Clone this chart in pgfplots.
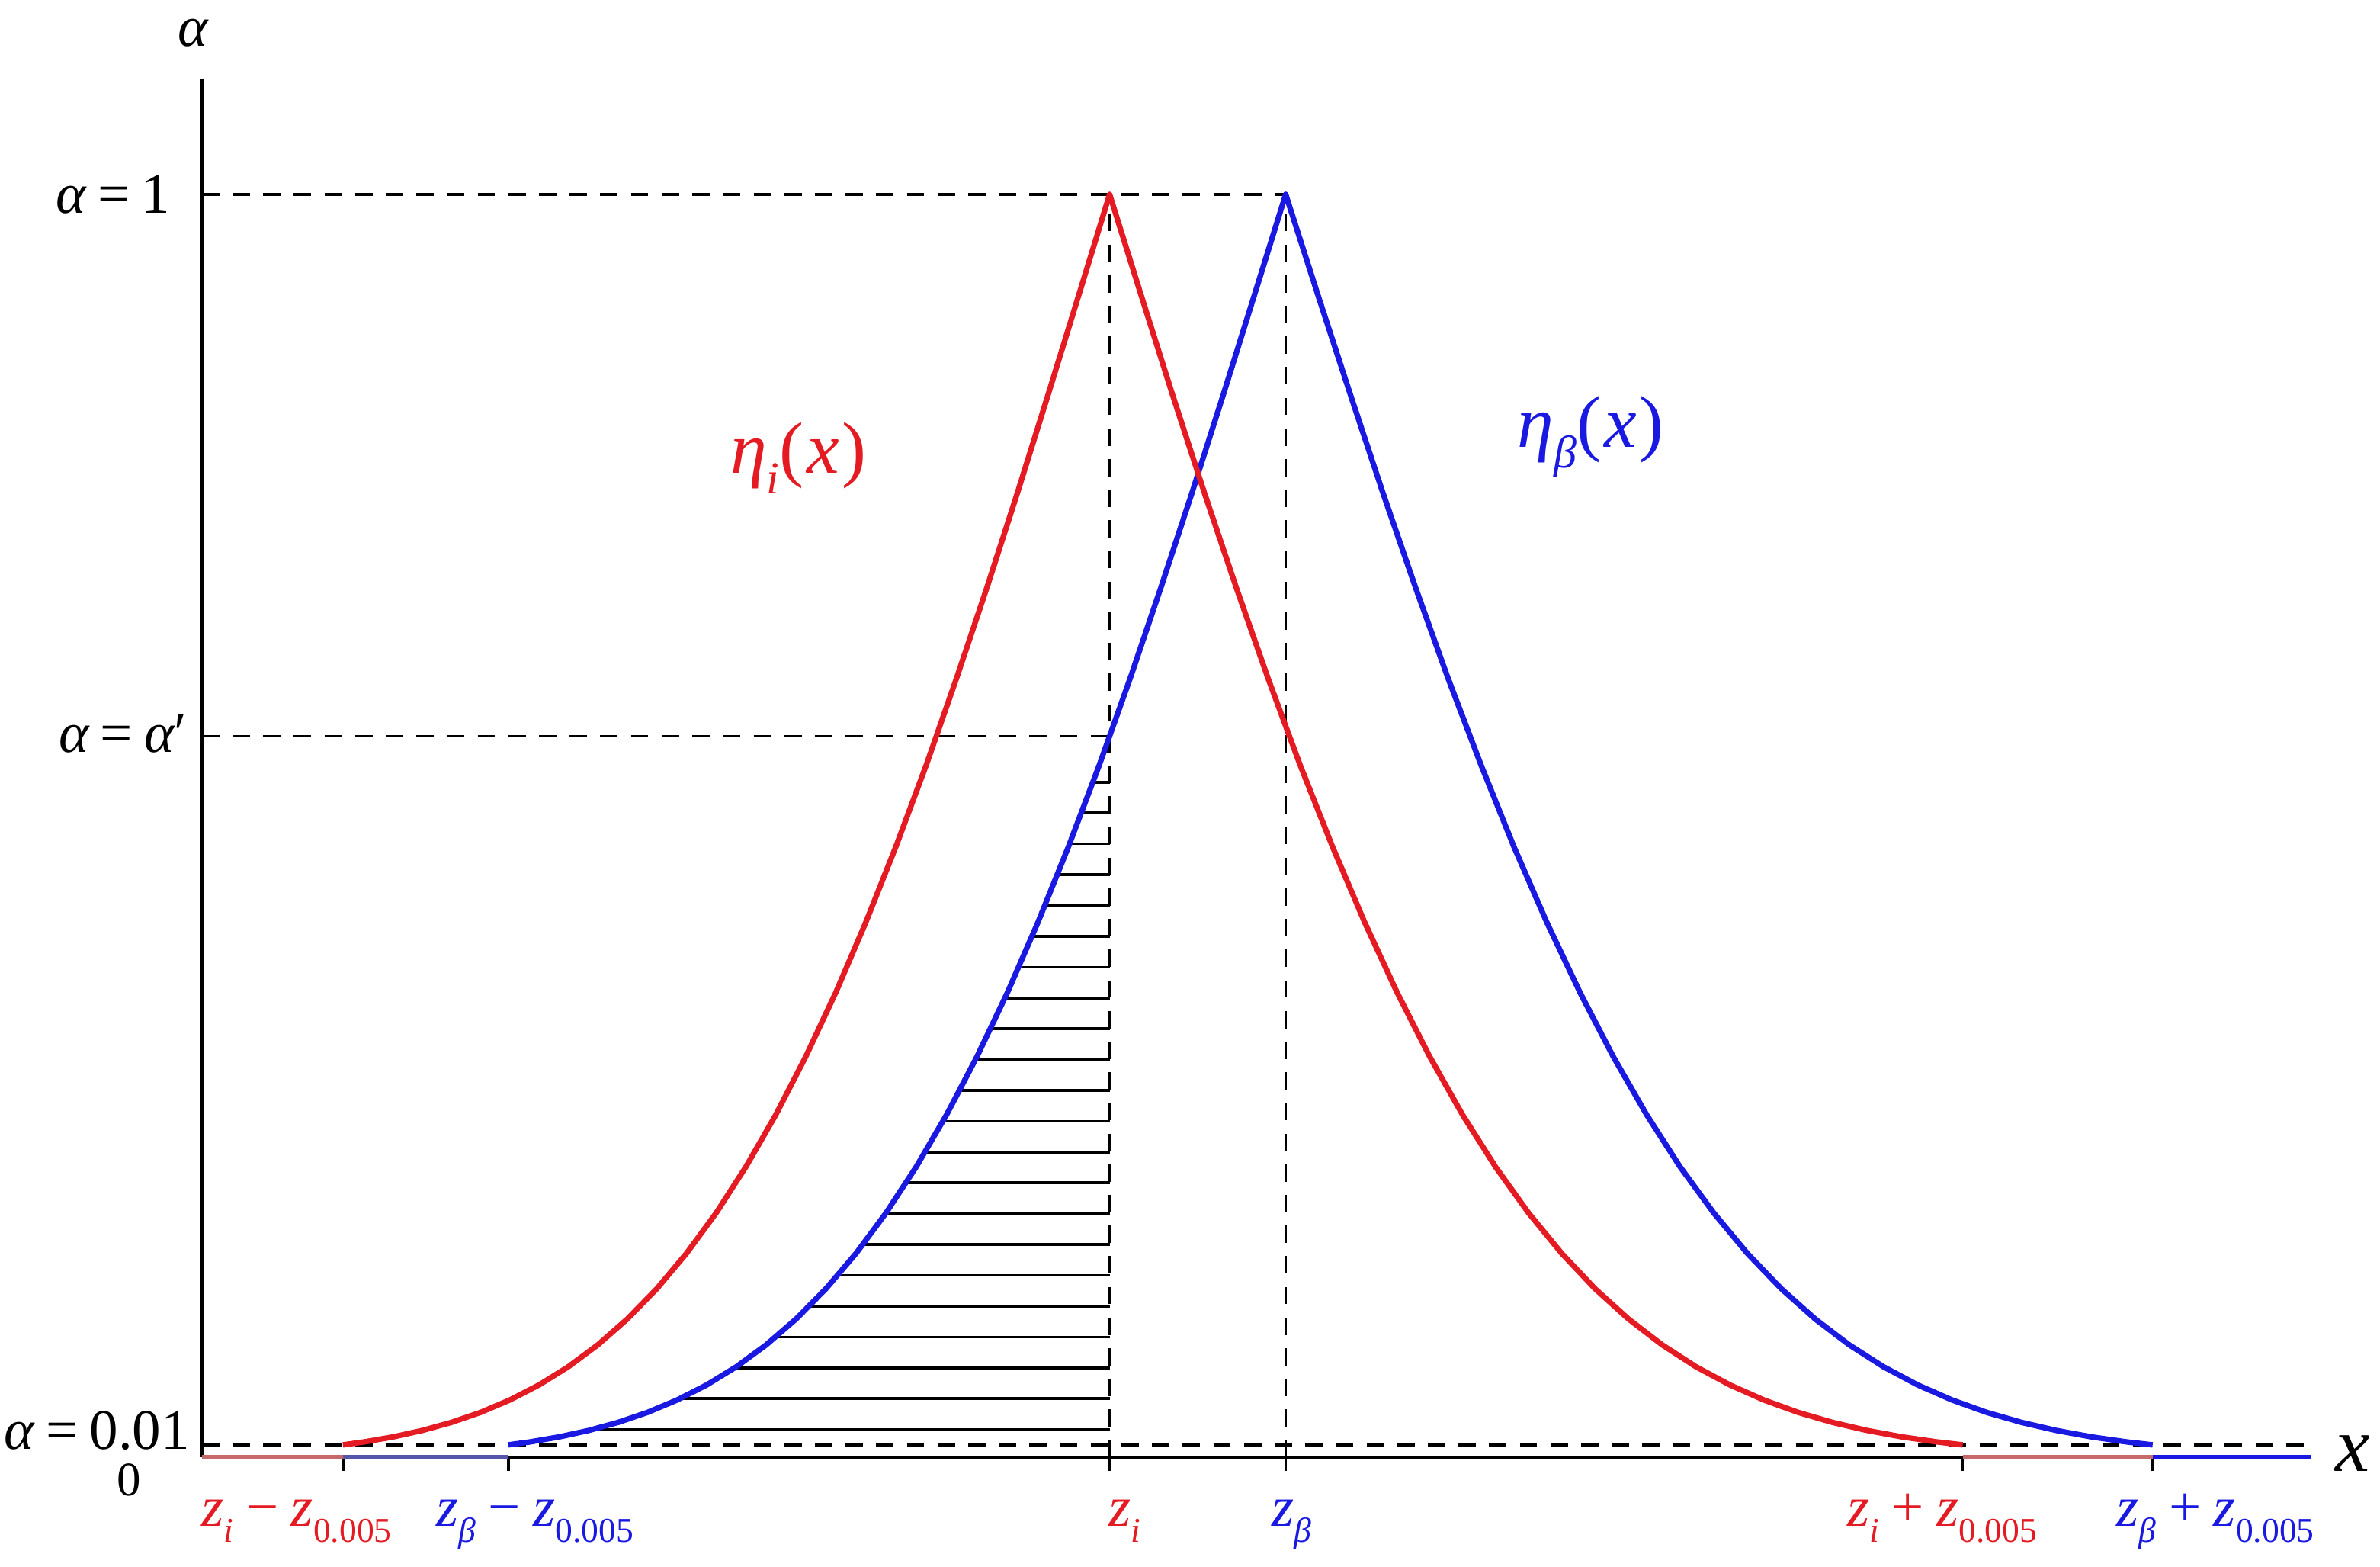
\documentclass[border=0pt]{standalone}
\usepackage{pgfplots}
\pgfplotsset{compat=1.18}
\usepackage{fontspec}
\setmainfont{Liberation Serif}
\definecolor{cred}{RGB}{228,27,35}
\definecolor{cblue}{RGB}{25,25,225}
\definecolor{pred}{RGB}{200,105,105}
\definecolor{pblue}{RGB}{85,85,170}
\newcommand{\sub}[1]{\raisebox{-0.28em}{\fontsize{7.6}{8}\selectfont #1}}
\newcommand{\zi}{{\itshape z}\sub{\itshape i}}
\newcommand{\zb}{{\itshape z}\sub{\itshape β}}
\newcommand{\zz}{{\itshape z}\sub{0.005}}
\newcommand{\eq}{\hspace{0.2em}=\hspace{0.2em}}
\newcommand{\op}[1]{\hspace{0.22em}#1\hspace{0.22em}}
\tikzset{lab/.style={inner sep=0pt, outer sep=0pt}}
\begin{document}
\begin{tikzpicture}
\path[use as bounding box] (-44.13pt,-23.89pt) rectangle (476.13pt,318.53pt);
\begin{axis}[
  at={(0pt,0pt)}, anchor=origin,
  scale only axis, width=460.9pt, height=301.26pt,
  xmin=0, xmax=1389, ymin=0, ymax=1.0913,
  axis x line=bottom, axis y line=left,
  axis line style={-, line width=0.6pt, black},
  xtick={93,202,598,714,1160,1285},
  xticklabels={,,,,,},
  ytick=\empty,
  tick align=outside,
  major tick length=3pt,
  x tick style={line width=0.55pt, black},
  clip=false,
]
% dashed reference lines
\addplot[black, line width=0.6pt, dash pattern=on 3.8pt off 2.9pt] coordinates {(0,1) (714,1)};
\addplot[black, line width=0.6pt, dash pattern=on 3.8pt off 2.9pt] coordinates {(0,0.571) (598,0.571)};
\addplot[black, line width=0.6pt, dash pattern=on 3.8pt off 2.9pt] coordinates {(0,0.01) (1389,0.01)};
\addplot[black, line width=0.6pt, dash pattern=on 3.8pt off 2.9pt] coordinates {(598,0) (598,1)};
\addplot[black, line width=0.6pt, dash pattern=on 3.8pt off 2.9pt] coordinates {(714,0) (714,1)};
% hatching
\addplot[black, line width=0.6pt, unbounded coords=jump] coordinates {
(257.2,0.0222)(598,0.0222)(598,nan)
(314.8,0.0466)(598,0.0466)(598,nan)
(350.9,0.0710)(598,0.0710)(598,nan)
(377.7,0.0954)(598,0.0954)(598,nan)
(399.8,0.1198)(598,0.1198)(598,nan)
(418.6,0.1442)(598,0.1442)(598,nan)
(435.3,0.1686)(598,0.1686)(598,nan)
(450.3,0.1930)(598,0.1930)(598,nan)
(463.7,0.2174)(598,0.2174)(598,nan)
(476.3,0.2418)(598,0.2418)(598,nan)
(488.1,0.2662)(598,0.2662)(598,nan)
(499.0,0.2906)(598,0.2906)(598,nan)
(509.6,0.3150)(598,0.3150)(598,nan)
(519.3,0.3394)(598,0.3394)(598,nan)
(529.0,0.3638)(598,0.3638)(598,nan)
(538.0,0.3882)(598,0.3882)(598,nan)
(546.8,0.4126)(598,0.4126)(598,nan)
(555.3,0.4370)(598,0.4370)(598,nan)
(563.4,0.4614)(598,0.4614)(598,nan)
(571.6,0.4858)(598,0.4858)(598,nan)
(579.3,0.5102)(598,0.5102)(598,nan)
(586.9,0.5346)(598,0.5346)(598,nan)
(594.4,0.5590)(598,0.5590)
};
% zero segments on the x axis
\addplot[pred, line width=1pt] coordinates {(0,0) (92.9,0)};
\addplot[pblue, line width=1pt] coordinates {(92.9,0) (201.9,0)};
\addplot[pred, line width=1pt] coordinates {(1160,0) (1285.1,0)};
\addplot[cblue, line width=1pt] coordinates {(1285.1,0) (1389,0)};
% eta_beta
\addplot[cblue, line width=1.2pt, line join=round] coordinates {
(201.9,0.01)(216.5,0.01242)(235.7,0.01640)(254.9,0.02145)(274.2,0.02781)(293.6,0.03573)(313.0,0.04550)(332.5,0.05743)(352.1,0.07186)(371.7,0.08913)(391.4,0.10960)(411.1,0.13361)(430.9,0.16151)(450.7,0.19360)(470.6,0.23014)(490.6,0.27133)(510.6,0.31731)(530.7,0.36812)(550.8,0.42371)(571.0,0.48393)(591.3,0.54851)(611.6,0.61708)(631.9,0.68916)(652.4,0.76418)(672.9,0.84148)(693.4,0.92034)(714,1)
(735.2,0.92034)(756.6,0.84148)(777.9,0.76418)(799.4,0.68916)(820.9,0.61708)(842.6,0.54851)(864.2,0.48393)(886.0,0.42371)(907.9,0.36812)(929.8,0.31731)(951.8,0.27133)(973.8,0.23014)(996.0,0.19360)(1018.2,0.16151)(1040.5,0.13361)(1062.9,0.10960)(1085.3,0.08913)(1107.8,0.07186)(1130.4,0.05743)(1153.1,0.04550)(1175.8,0.03573)(1198.7,0.02781)(1221.6,0.02145)(1244.5,0.01640)(1267.6,0.01242)(1285.1,0.01)
};
% eta_i
\addplot[cred, line width=1.2pt, line join=round] coordinates {
(92.9,0.01)(107.3,0.01242)(126.3,0.01640)(145.3,0.02145)(164.4,0.02781)(183.6,0.03573)(202.8,0.04550)(222.1,0.05743)(241.4,0.07186)(260.8,0.08913)(280.2,0.10960)(299.7,0.13361)(319.2,0.16151)(338.8,0.19360)(358.4,0.23014)(378.1,0.27133)(397.8,0.31731)(417.6,0.36812)(437.4,0.42371)(457.3,0.48393)(477.3,0.54851)(497.2,0.61708)(517.3,0.68916)(537.4,0.76418)(557.5,0.84148)(577.7,0.92034)(598,1)
(618.7,0.92034)(639.4,0.84148)(660.3,0.76418)(681.3,0.68916)(702.3,0.61708)(723.4,0.54851)(744.7,0.48393)(766.0,0.42371)(787.4,0.36812)(808.9,0.31731)(830.5,0.27133)(852.2,0.23014)(874.0,0.19360)(895.9,0.16151)(917.8,0.13361)(939.9,0.10960)(962.1,0.08913)(984.3,0.07186)(1006.7,0.05743)(1029.1,0.04550)(1051.6,0.03573)(1074.2,0.02781)(1096.9,0.02145)(1119.7,0.01640)(1142.6,0.01242)(1160.0,0.01)
};
% y-side labels
\node[lab, font=\fontsize{12.5}{14}\selectfont] at (axis cs:-6,1.128) {\itshape α};
\node[lab, anchor=east, font=\fontsize{12.5}{14}\selectfont] at (axis cs:-21,1.0) {{\itshape α}\eq 1};
\node[lab, anchor=east, font=\fontsize{12.5}{14}\selectfont] at (axis cs:-10,0.573) {{\itshape α}\eq{\itshape α}′};
\node[lab, anchor=east, font=\fontsize{12.5}{14}\selectfont] at (axis cs:-8,0.0216) {{\itshape α}\eq 0.01};
\node[lab, font=\fontsize{10.5}{12}\selectfont] at (axis cs:-48,-0.018) {0};
\node[lab, font=\fontsize{17}{20}\selectfont] at (axis cs:1417,0.003) {\itshape x};
% curve labels
\node[lab, text=cred, font=\fontsize{16}{18}\selectfont] at (axis cs:393,0.791) {{\itshape η}\raisebox{-0.28em}{\fontsize{10}{11}\selectfont\itshape i}(\hspace{0.04em}{\itshape x}\hspace{0.04em})};
\node[lab, text=cblue, font=\fontsize{16}{18}\selectfont] at (axis cs:915,0.808) {{\itshape η}\raisebox{-0.28em}{\fontsize{10}{11}\selectfont\itshape β}(\hspace{0.04em}{\itshape x}\hspace{0.04em})};
% x tick labels
\node[lab, anchor=base, text=cred, font=\fontsize{12.5}{14}\selectfont] at (axis cs:62.5,-0.0541) {\zi\op{−}\zz};
\node[lab, anchor=base, text=cblue, font=\fontsize{12.5}{14}\selectfont] at (axis cs:219.5,-0.0541) {\zb\op{−}\zz};
\node[lab, anchor=base, text=cred, font=\fontsize{12.5}{14}\selectfont] at (axis cs:608,-0.0541) {\zi};
\node[lab, anchor=base, text=cblue, font=\fontsize{12.5}{14}\selectfont] at (axis cs:718,-0.0541) {\zb};
\node[lab, anchor=base, text=cred, font=\fontsize{12.5}{14}\selectfont] at (axis cs:1146.5,-0.0541) {\zi\op{+}\zz};
\node[lab, anchor=base, text=cblue, font=\fontsize{12.5}{14}\selectfont] at (axis cs:1326.5,-0.0541) {\zb\op{+}\zz};
\end{axis}
\end{tikzpicture}
\end{document}
